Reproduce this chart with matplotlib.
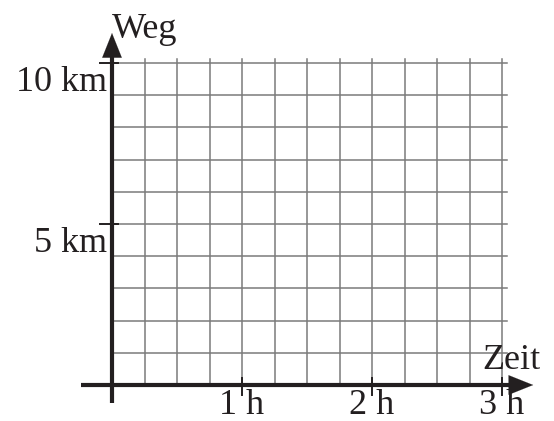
import numpy as np
import matplotlib
matplotlib.use("Agg")
import matplotlib.pyplot as plt

# Achsen-Beschriftung
zeit_ticks = [1, 2, 3]
zeit_labels = ["1 h", "2 h", "3 h"]
weg_ticks = [5, 10]
weg_labels = ["5 km", "10 km"]

# Gitter: Viertelstunden und Kilometer
gitter_x = np.arange(0, 3.01, 0.25)
gitter_y = np.arange(1, 10.01, 1)

schwarz = "#231f20"
grau = "#7a7a7a"

plt.rcParams["font.family"] = ["Liberation Serif", "DejaVu Serif"]

fig = plt.figure(figsize=(5.54, 4.21), dpi=100)
ax = fig.add_axes([0, 0, 1, 1])
ax.set_xlim(-112 / 130, (554 - 112) / 130)
ax.set_ylim((385 - 421) / 32.2, 385 / 32.2)
ax.axis("off")

# Gitterlinien
for x in gitter_x:
    ax.plot([x, x], [0, 10.12], color=grau, lw=1.1, zorder=1)
for y in gitter_y:
    ax.plot([0, 3.04], [y, y], color=grau, lw=1.1, zorder=1)

# Achsen mit Pfeilen
pfeil = dict(arrowstyle="-|>,head_length=0.8,head_width=0.32", color=schwarz,
             lw=0.1, mutation_scale=22, shrinkA=0, shrinkB=0)
ax.plot([0, 0], [-0.56, 10.4], color=schwarz, lw=3, solid_capstyle="butt", zorder=3)
ax.plot([-0.24, 3.05], [0, 0], color=schwarz, lw=3, solid_capstyle="butt", zorder=3)
ax.annotate("", xy=(0, 10.93), xytext=(0, 10.0), arrowprops=pfeil, zorder=4)
ax.annotate("", xy=(3.24, 0), xytext=(2.9, 0), arrowprops=pfeil, zorder=4)

# Striche und Beschriftung
for t, lab in zip(zeit_ticks, zeit_labels):
    ax.plot([t, t], [0.22, -0.31], color=schwarz, lw=1.4, zorder=3)
    ax.text(t, -0.89, lab, ha="center", va="baseline", fontsize=26, color=schwarz)
for w, lab in zip(weg_ticks, weg_labels):
    ax.plot([-0.092, 0.046], [w, w], color=schwarz, lw=1.4, zorder=3)
    ax.text(-0.036, w - 0.86, lab, ha="right", va="baseline", fontsize=26, color=schwarz)

ax.text(0.0, 10.78, "Weg", ha="left", va="baseline", fontsize=26, color=schwarz)
ax.text(2.846, 0.49, "Zeit", ha="left", va="baseline", fontsize=26, color=schwarz)

fig.savefig("out.png", dpi=100)
